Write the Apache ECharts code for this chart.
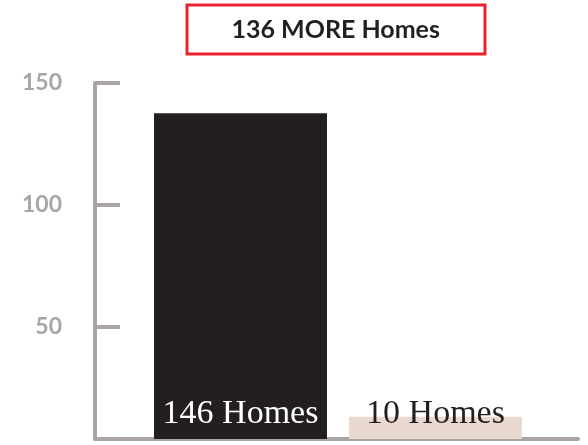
<!DOCTYPE html>
<html>
<head>
<meta charset="utf-8">
<script src="https://cdn.jsdelivr.net/npm/echarts@6/dist/echarts.min.js"></script>
<style>
html,body{margin:0;padding:0;background:#fff;}
#chart{width:588px;height:445px;}
</style>
</head>
<body>
<div id="chart"></div>
<script>
const titleText = '136 MORE Homes';
const categories = ['146 Homes', '10 Homes'];
const homes = [146, 10];
const yTicks = [50, 100, 150];

const barColors = ['#231f20', '#ead9cf'];
const labelColors = ['#ffffff', '#231f20'];
const grey = '#aaa5a4';

const chart = echarts.init(document.getElementById('chart'), null, {renderer: 'canvas'});

const seriesData = homes.map((v, i) => ({
  value: [i + 1, v],
  name: categories[i],
  itemStyle: {color: barColors[i]},
  label: {color: labelColors[i]}
}));

chart.setOption({
  animation: false,
  backgroundColor: '#ffffff',
  title: {
    text: titleText,
    left: 186.5,
    top: 5,
    padding: [12.5, 45, 11.5, 45],
    borderColor: '#e8212f',
    borderWidth: 3,
    textStyle: {
      fontFamily: 'Lato',
      fontWeight: 'bold',
      fontSize: 25,
      lineHeight: 25,
      color: '#231f20'
    }
  },
  grid: {left: 95, right: 10, top: 83, bottom: 6, containLabel: false},
  xAxis: {
    type: 'value',
    min: 1 - 145.5 / 195,
    max: 2 + 142.5 / 195,
    axisLine: {show: true, onZero: false, lineStyle: {color: grey, width: 4}},
    axisTick: {show: false},
    axisLabel: {show: false},
    splitLine: {show: false}
  },
  yAxis: [
    {
      type: 'value',
      min: 3.8,
      max: 150,
      position: 'left',
      axisLine: {show: true, lineStyle: {color: grey, width: 4}},
      axisTick: {show: true, inside: true, length: 25, customValues: yTicks, lineStyle: {color: grey, width: 4}},
      axisLabel: {show: true, margin: 33, customValues: yTicks, color: grey, fontFamily: 'Lato', fontWeight: 'bold', fontSize: 23},
      splitLine: {show: false}
    },
    {
      type: 'value',
      min: 0,
      max: 159.6,
      show: false,
      splitLine: {show: false}
    }
  ],
  series: [{
    type: 'bar',
    yAxisIndex: 1,
    barWidth: 173,
    data: seriesData,
    label: {
      show: true,
      position: 'insideBottom',
      distance: 8,
      fontFamily: 'Liberation Serif',
      fontSize: 34,
      formatter: p => p.name
    }
  }]
});
</script>
</body>
</html>
